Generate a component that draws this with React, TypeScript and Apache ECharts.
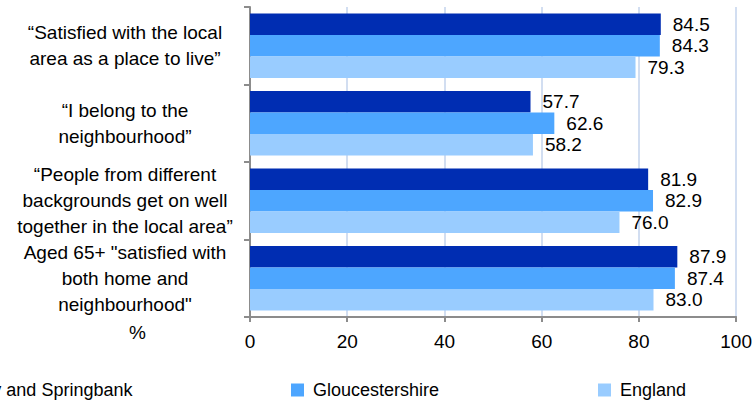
import React, { useEffect, useRef } from "react";
import * as echarts from "echarts";

const categories = [
  "“Satisfied with the local\narea as a place to live”",
  "“I belong to the\nneighbourhood”",
  "“People from different\nbackgrounds get on well\ntogether in the local area”",
  "Aged 65+ \"satisfied with\nboth home and\nneighbourhood\"",
];
const seriesNames = ["Hesters Way and Springbank", "Gloucestershire", "England"];
const wardValues = [84.5, 57.7, 81.9, 87.9];
const countyValues = [84.3, 62.6, 82.9, 87.4];
const englandValues = [79.3, 58.2, 76.0, 83.0];
const colors = ["#002DB2", "#4DA6FF", "#99CCFF"];
const axisUnit = "%";

const FONT = "'Liberation Sans', Arial, sans-serif";
const FS = 19;
const LFS = 18;

export default function App() {
  const ref = useRef<HTMLDivElement>(null);
  useEffect(() => {
    if (!ref.current) return;
    const chart = echarts.init(ref.current, undefined, { renderer: "svg" });
    const values = [wardValues, countyValues, englandValues];
    const legendBase = {
      orient: "horizontal",
      top: 381,
      padding: 0,
      itemWidth: 13,
      itemHeight: 13,
      icon: "rect",
      textStyle: {
        fontSize: LFS,
        lineHeight: 18,
        color: "#000",
        fontFamily: FONT,
        padding: [0, 0, 0, 4],
      },
    };
    chart.setOption({
      animation: false,
      textStyle: { fontFamily: FONT },
      grid: { left: 250, right: 16, top: 7, bottom: 85, containLabel: false },
      legend: [
        { ...legendBase, left: -123, data: [seriesNames[0]] },
        { ...legendBase, left: 291, data: [seriesNames[1]] },
        { ...legendBase, left: 598, data: [seriesNames[2]] },
      ],
      graphic: [
        {
          type: "text",
          left: 129,
          top: 323,
          style: { text: axisUnit, fontSize: FS, fill: "#000", fontFamily: FONT },
        },
      ],
      xAxis: {
        type: "value",
        min: 0,
        max: 100,
        interval: 20,
        axisLine: { show: true, lineStyle: { color: "#8C8C8C", width: 2 } },
        axisTick: { show: true, length: 5, lineStyle: { color: "#8C8C8C", width: 2 } },
        axisLabel: { fontSize: FS, color: "#000", margin: 15, fontFamily: FONT },
        splitLine: { show: true, lineStyle: { color: "#C3D3EC", width: 1.5 } },
      },
      yAxis: {
        type: "category",
        inverse: true,
        data: categories,
        axisLine: { show: true, lineStyle: { color: "#8C8C8C", width: 2 } },
        axisTick: { show: true, length: 6, interval: 0, lineStyle: { color: "#8C8C8C", width: 2 } },
        axisLabel: {
          interval: 0,
          fontSize: FS,
          lineHeight: 26,
          color: "#000",
          margin: 125,
          align: "center",
          fontFamily: FONT,
        },
      },
      series: seriesNames.map((name, i) => ({
        name,
        type: "bar",
        data: values[i],
        barGap: "0%",
        barCategoryGap: "17%",
        itemStyle: { color: colors[i] },
        label: {
          show: true,
          position: "right",
          distance: 12,
          fontSize: FS,
          color: "#000",
          fontFamily: FONT,
          formatter: (p: any) => Number(p.value).toFixed(1),
        },
      })),
    });
    return () => chart.dispose();
  }, []);
  return (
    <div
      ref={ref}
      style={{ position: "fixed", left: 0, top: 0, width: 755, height: 402, background: "#fff" }}
    />
  );
}
